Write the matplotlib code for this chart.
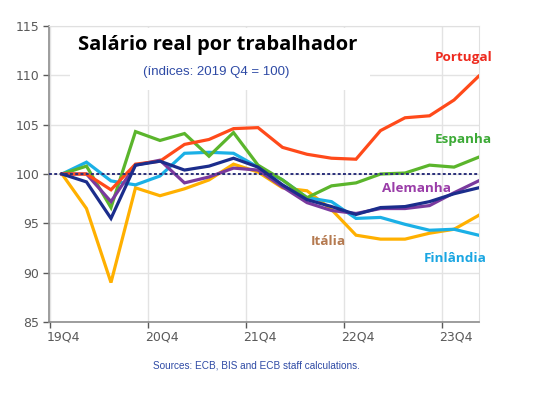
import numpy as np
import matplotlib.pyplot as plt
import matplotlib.transforms as mtransforms
from matplotlib.patches import Rectangle

# quarters 19Q4 .. 24Q1
quarters = ['19Q4', '20Q1', '20Q2', '20Q3', '20Q4', '21Q1', '21Q2', '21Q3', '21Q4',
            '22Q1', '22Q2', '22Q3', '22Q4', '23Q1', '23Q2', '23Q3', '23Q4', '24Q1']
tick_labels = ['19Q4', '20Q4', '21Q4', '22Q4', '23Q4']

portugal = [100, 100, 98.4, 101.0, 101.3, 103.0, 103.5, 104.6, 104.7, 102.7, 102.0, 101.6,
            101.5, 104.4, 105.7, 105.9, 107.5, 109.9]
espanha = [100, 100.8, 96.6, 104.3, 103.4, 104.1, 101.8, 104.2, 100.9, 99.4, 97.6, 98.8,
           99.1, 100.0, 100.1, 100.9, 100.7, 101.7]
alemanha = [100, 100, 97.2, 100.9, 101.4, 99.1, 99.7, 100.6, 100.4, 98.7, 97.1, 96.3,
            96.0, 96.5, 96.5, 96.8, 98.1, 99.3]
area_euro = [100, 99.2, 95.5, 100.9, 101.3, 100.4, 100.8, 101.6, 100.7, 98.9, 97.4, 96.7,
             95.9, 96.6, 96.7, 97.2, 98.0, 98.6]
finlandia = [100, 101.2, 99.3, 98.9, 99.8, 102.1, 102.2, 102.1, 100.7, 99.4, 97.6, 97.2,
             95.5, 95.6, 94.9, 94.3, 94.4, 93.8]
italia = [100, 96.5, 89.0, 98.6, 97.8, 98.5, 99.4, 101.0, 100.2, 98.6, 98.3, 96.4,
          93.8, 93.4, 93.4, 94.0, 94.4, 95.8]

series = [
    (italia, '#FFB000'),
    (finlandia, '#1BB0E6'),
    (espanha, '#5BB52C'),
    (alemanha, '#7A3A9E'),
    (portugal, '#FF4A1A'),
    (area_euro, '#1B2D8C'),
]

x = np.arange(len(quarters))

fig = plt.figure(figsize=(5.36, 3.94), dpi=100)
ax = fig.add_axes([0.0914, 0.1827, 0.8023, 0.7513])

for vals, col in series:
    ax.plot(x, vals, color=col, lw=2.3, solid_joinstyle='miter', zorder=3)

# reference line at 100
ax.axhline(100, color='#2A2F7A', lw=1.4, ls=(0, (1.5, 1.2)), zorder=4)

ax.set_ylim(85, 115)
ax.set_xlim(-0.53, 17.02)
ax.set_yticks([85, 90, 95, 100, 105, 110, 115])
ax.tick_params(axis='y', labelsize=9, colors='#595959', length=4, width=1, pad=3)
ax.set_xticks([-0.5, 3.5, 7.5, 11.5, 15.5])
ax.set_xticklabels(tick_labels)
ax.tick_params(axis='x', labelsize=9, colors='#595959', length=4, width=1, pad=2)
shift = mtransforms.ScaledTranslation(-3 / 100, 0, fig.dpi_scale_trans)
for lab in ax.get_xticklabels():
    lab.set_horizontalalignment('left')
    lab.set_transform(lab.get_transform() + shift)

ax.grid(True, color='#E3E3E3', lw=1.0, zorder=0)
ax.set_axisbelow(True)
for s in ['top', 'right']:
    ax.spines[s].set_color('#E0E0E0')
for s in ['left', 'bottom']:
    ax.spines[s].set_color('#8C8C8C')
    ax.spines[s].set_linewidth(1.2)

# white box behind the title
fig.patches.append(Rectangle((70 / 536, 1 - 90 / 394), 300 / 536, 62 / 394,
                             transform=fig.transFigure, facecolor='white',
                             edgecolor='none', zorder=1))

fig.text(78 / 536, 1 - 45 / 394, 'Salário real por trabalhador', fontsize=14.5,
         fontweight='bold', family='Open Sans', color='black', va='center', zorder=5)
fig.text(216 / 536, 1 - 72 / 394, '(índices: 2019 Q4 = 100)', fontsize=9.5,
         color='#2E4AA5', ha='center', va='center', family='Liberation Sans', zorder=5)

lab_kw = dict(fontsize=9.7, fontweight='bold', family='Open Sans', va='center', ha='center')
fig.text(464 / 536, 1 - 57 / 394, 'Portugal', color='#EE2A1E', **lab_kw)
fig.text(463 / 536, 1 - 139 / 394, 'Espanha', color='#3CAA36', **lab_kw)
fig.text(416 / 536, 1 - 188 / 394, 'Alemanha', color='#9A3DA8', **lab_kw)
fig.text(328 / 536, 1 - 242 / 394, 'Itália', color='#B57A50', **lab_kw)
fig.text(455 / 536, 1 - 258 / 394, 'Finlândia', color='#1AA6E2', **lab_kw)

fig.text(256 / 536, 1 - 366 / 394, 'Sources: ECB, BIS and ECB staff calculations.',
         fontsize=7.2, color='#2E4AA5', ha='center', va='center', family='Liberation Sans')

fig.savefig('out.png', dpi=100)
